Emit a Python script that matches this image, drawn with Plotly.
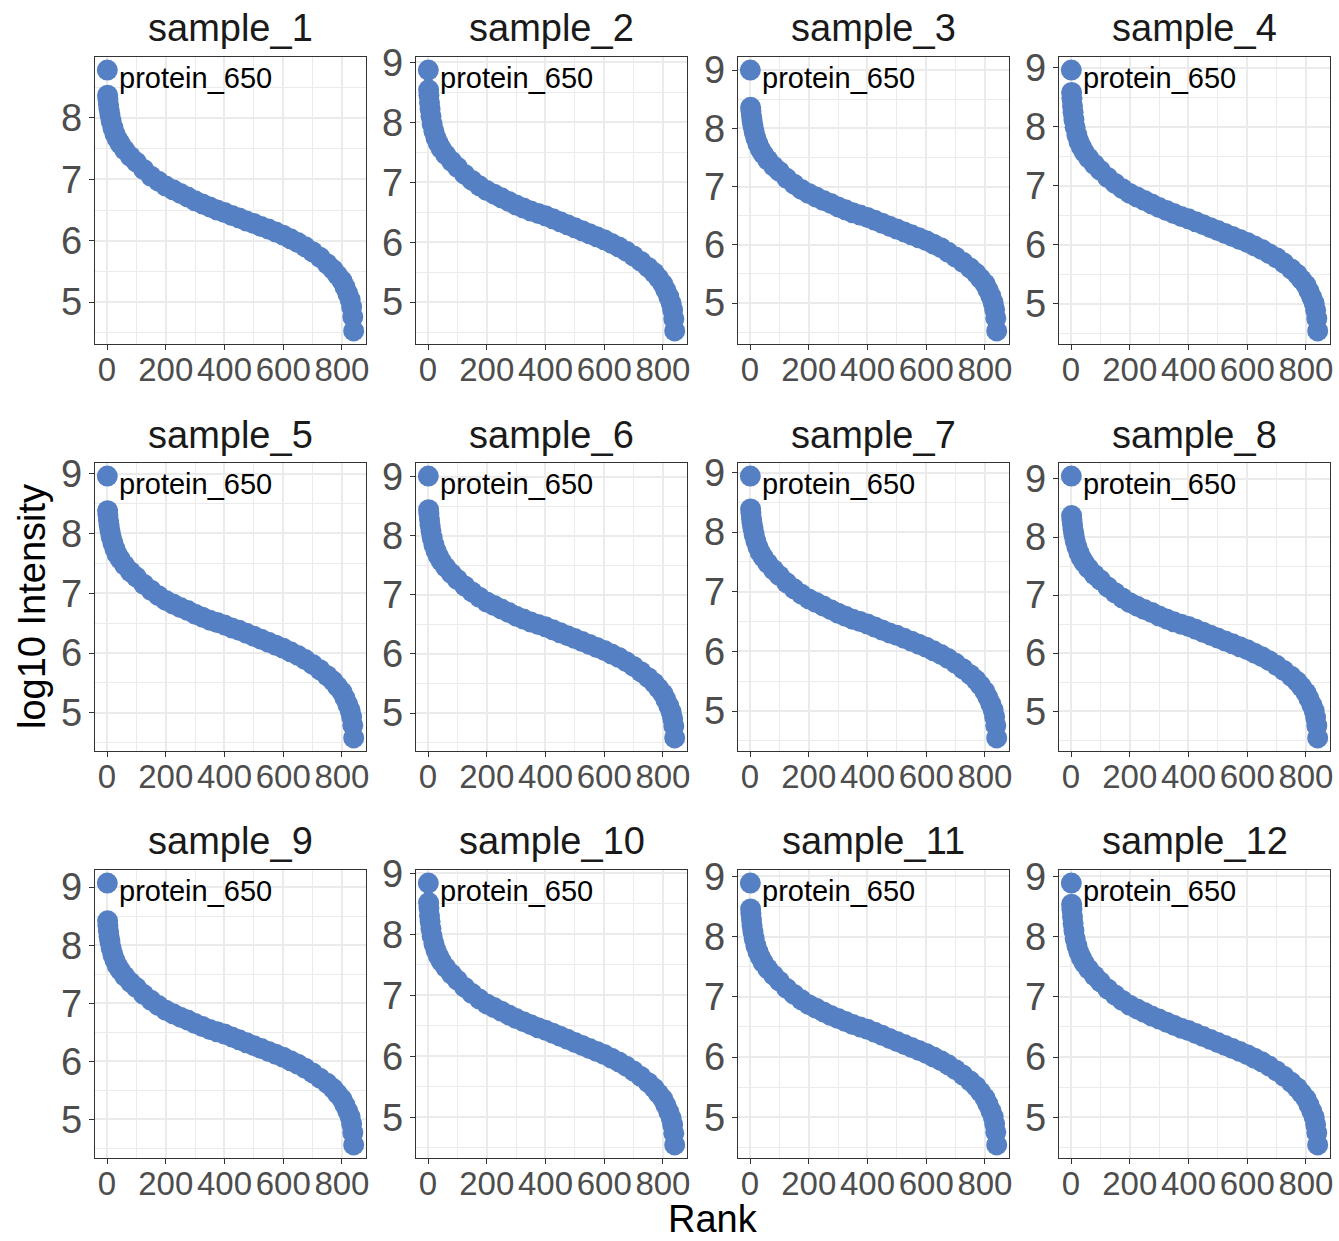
import plotly.graph_objects as go

# ---------------- data ----------------
samples = [f"sample_{i}" for i in range(1, 13)]
label_text = "protein_650"

ranks = [1, 2, 3, 5, 7, 10, 14, 20, 27, 35, 45, 60, 80, 100, 125, 150, 175, 200, 225, 250,
         275, 300, 325, 350, 375, 400, 425, 450, 475, 500, 525, 550, 575, 600, 625, 650,
         675, 700, 725, 750, 770, 785, 800, 810, 820, 828, 833, 837, 840]

s1 = [8.78, 8.37, 8.31, 8.22, 8.14, 8.05, 7.95, 7.84, 7.74, 7.66, 7.58, 7.48, 7.37, 7.28, 7.16, 7.05, 6.97, 6.89, 6.83, 6.77,
      6.71, 6.65, 6.60, 6.55, 6.50, 6.46, 6.41, 6.37, 6.32, 6.28, 6.23, 6.19, 6.14, 6.09, 6.03, 5.97,
      5.90, 5.82, 5.73, 5.62, 5.53, 5.44, 5.35, 5.25, 5.14, 5.04, 4.92, 4.76, 4.53]
s2 = [8.87, 8.54, 8.45, 8.33, 8.22, 8.10, 7.97, 7.85, 7.74, 7.65, 7.56, 7.46, 7.35, 7.25, 7.13, 7.03, 6.94, 6.86, 6.80, 6.74,
      6.68, 6.62, 6.57, 6.52, 6.48, 6.44, 6.39, 6.34, 6.29, 6.24, 6.19, 6.14, 6.09, 6.04, 5.98, 5.92,
      5.85, 5.77, 5.68, 5.58, 5.49, 5.40, 5.30, 5.20, 5.09, 4.98, 4.87, 4.72, 4.52]
s3 = [9.00, 8.36, 8.30, 8.21, 8.13, 8.04, 7.94, 7.83, 7.73, 7.64, 7.56, 7.46, 7.35, 7.26, 7.14, 7.04, 6.95, 6.88, 6.82, 6.76,
      6.71, 6.65, 6.60, 6.55, 6.51, 6.47, 6.42, 6.37, 6.32, 6.27, 6.22, 6.17, 6.12, 6.07, 6.01, 5.95,
      5.87, 5.79, 5.70, 5.60, 5.51, 5.42, 5.33, 5.23, 5.12, 5.01, 4.89, 4.74, 4.52]
s4 = [8.96, 8.58, 8.48, 8.35, 8.24, 8.12, 7.99, 7.86, 7.75, 7.66, 7.57, 7.47, 7.36, 7.26, 7.14, 7.04, 6.95, 6.87, 6.81, 6.75,
      6.69, 6.63, 6.58, 6.53, 6.48, 6.44, 6.39, 6.34, 6.29, 6.24, 6.19, 6.14, 6.09, 6.04, 5.98, 5.92,
      5.85, 5.78, 5.69, 5.59, 5.50, 5.41, 5.32, 5.22, 5.11, 5.01, 4.89, 4.75, 4.54]
s5 = [8.96, 8.38, 8.31, 8.22, 8.14, 8.05, 7.95, 7.84, 7.74, 7.65, 7.57, 7.47, 7.36, 7.27, 7.15, 7.05, 6.96, 6.88, 6.82, 6.76,
      6.71, 6.65, 6.60, 6.55, 6.51, 6.47, 6.42, 6.38, 6.33, 6.28, 6.23, 6.18, 6.13, 6.08, 6.02, 5.96,
      5.89, 5.81, 5.72, 5.62, 5.53, 5.44, 5.35, 5.25, 5.14, 5.04, 4.93, 4.79, 4.58]
s6 = [9.01, 8.44, 8.37, 8.27, 8.18, 8.08, 7.97, 7.85, 7.75, 7.66, 7.57, 7.47, 7.36, 7.26, 7.15, 7.05, 6.96, 6.88, 6.82, 6.76,
      6.70, 6.64, 6.59, 6.54, 6.50, 6.46, 6.41, 6.36, 6.31, 6.26, 6.21, 6.16, 6.11, 6.06, 6.00, 5.94,
      5.87, 5.79, 5.70, 5.60, 5.51, 5.42, 5.33, 5.23, 5.12, 5.02, 4.91, 4.78, 4.58]
s7 = [8.94, 8.39, 8.32, 8.23, 8.15, 8.06, 7.96, 7.85, 7.75, 7.66, 7.58, 7.48, 7.37, 7.27, 7.15, 7.05, 6.96, 6.88, 6.82, 6.76,
      6.70, 6.64, 6.59, 6.54, 6.50, 6.46, 6.41, 6.36, 6.31, 6.27, 6.22, 6.17, 6.12, 6.07, 6.01, 5.95,
      5.88, 5.80, 5.71, 5.61, 5.52, 5.43, 5.33, 5.23, 5.12, 5.02, 4.90, 4.76, 4.55]
s8 = [9.05, 8.37, 8.30, 8.21, 8.13, 8.04, 7.94, 7.83, 7.73, 7.64, 7.56, 7.46, 7.35, 7.26, 7.14, 7.04, 6.95, 6.87, 6.81, 6.75,
      6.70, 6.64, 6.59, 6.54, 6.50, 6.46, 6.41, 6.36, 6.31, 6.26, 6.21, 6.16, 6.11, 6.06, 6.00, 5.94,
      5.87, 5.79, 5.70, 5.60, 5.51, 5.42, 5.32, 5.22, 5.11, 5.01, 4.89, 4.75, 4.54]
s9 = [9.07, 8.42, 8.34, 8.24, 8.15, 8.06, 7.95, 7.84, 7.74, 7.65, 7.57, 7.47, 7.36, 7.27, 7.15, 7.05, 6.96, 6.88, 6.82, 6.76,
      6.71, 6.65, 6.60, 6.55, 6.51, 6.47, 6.42, 6.37, 6.32, 6.27, 6.22, 6.17, 6.12, 6.07, 6.01, 5.95,
      5.88, 5.80, 5.71, 5.62, 5.53, 5.44, 5.35, 5.25, 5.14, 5.04, 4.92, 4.77, 4.56]
s10 = [8.84, 8.52, 8.43, 8.31, 8.21, 8.09, 7.97, 7.85, 7.74, 7.65, 7.56, 7.46, 7.35, 7.25, 7.13, 7.03, 6.94, 6.86, 6.80, 6.74,
       6.68, 6.62, 6.57, 6.52, 6.47, 6.43, 6.38, 6.33, 6.28, 6.23, 6.18, 6.13, 6.08, 6.03, 5.97, 5.91,
       5.84, 5.76, 5.67, 5.57, 5.48, 5.39, 5.30, 5.20, 5.09, 4.99, 4.88, 4.74, 4.55]
s11 = [8.89, 8.46, 8.38, 8.28, 8.18, 8.08, 7.97, 7.85, 7.75, 7.66, 7.57, 7.47, 7.36, 7.26, 7.14, 7.04, 6.95, 6.87, 6.81, 6.75,
       6.69, 6.64, 6.59, 6.54, 6.50, 6.46, 6.41, 6.36, 6.31, 6.26, 6.21, 6.16, 6.11, 6.06, 6.00, 5.94,
       5.87, 5.79, 5.70, 5.60, 5.51, 5.42, 5.32, 5.22, 5.11, 5.01, 4.89, 4.75, 4.54]
s12 = [8.89, 8.54, 8.45, 8.33, 8.22, 8.10, 7.97, 7.85, 7.74, 7.65, 7.56, 7.46, 7.35, 7.25, 7.13, 7.03, 6.94, 6.86, 6.80, 6.74,
       6.68, 6.63, 6.58, 6.53, 6.48, 6.44, 6.39, 6.34, 6.29, 6.24, 6.19, 6.14, 6.09, 6.04, 5.98, 5.92,
       5.85, 5.77, 5.68, 5.58, 5.49, 5.40, 5.31, 5.21, 5.10, 5.00, 4.88, 4.74, 4.54]
values = [s1, s2, s3, s4, s5, s6, s7, s8, s9, s10, s11, s12]

x_ticks = [0, 200, 400, 600, 800]
x_minor = [100, 300, 500, 700]
y_ticks = [5, 6, 7, 8, 9]
y_minor = [4.5, 5.5, 6.5, 7.5, 8.5]

# ---------------- layout geometry (pixels) ----------------
W, H = 1339, 1241
col_px = [(95, 366), (416, 687), (738, 1009), (1059, 1330)]
row_px = [(57, 344), (463, 751), (870, 1158)]
strip_y = [28, 435, 841]

FONT = "Liberation Sans, Arial, Helvetica, sans-serif"
POINT = "#5680C4"
GRID = "#EBEBEB"
BORDER = "#333333"
TICKCOL = "#4D4D4D"

fig = go.Figure()
annotations = []

n_min, n_max = min(ranks), max(ranks)
xr = [n_min - 0.05 * (n_max - n_min), n_max + 0.05 * (n_max - n_min)]

for i, (name, vals) in enumerate(zip(samples, values)):
    r, c = divmod(i, 4)
    k = i + 1
    xa = "x" if k == 1 else f"x{k}"
    ya = "y" if k == 1 else f"y{k}"
    fig.add_trace(go.Scatter(
        x=ranks, y=vals, mode="markers", xaxis=xa, yaxis=ya,
        marker=dict(size=21, color=POINT, line=dict(width=0)),
        showlegend=False, hoverinfo="skip"))

    lo, hi = min(vals), max(vals)
    span = hi - lo
    yr = [lo - 0.05 * span, hi + 0.05 * span]

    x0, x1 = col_px[c]
    y0, y1 = row_px[r]
    common = dict(showline=True, linecolor=BORDER, linewidth=1.3, mirror=True,
                  showgrid=True, gridcolor=GRID, gridwidth=1.8, zeroline=False,
                  ticks="outside", ticklen=5, tickwidth=1.3, tickcolor=BORDER,
                  automargin=False, tickangle=0)
    fig.layout[("xaxis" if k == 1 else f"xaxis{k}")] = dict(
        domain=[x0 / W, x1 / W], anchor=ya, range=xr,
        tickmode="array", tickvals=x_ticks, ticktext=[str(v) for v in x_ticks],
        minor=dict(tickmode="array", tickvals=x_minor, showgrid=True, gridcolor=GRID,
                   gridwidth=0.9, ticks=""),
        tickfont=dict(family=FONT, size=33, color=TICKCOL),
        ticklabelstandoff=-9, **common)
    fig.layout[("yaxis" if k == 1 else f"yaxis{k}")] = dict(
        domain=[1 - y1 / H, 1 - y0 / H], anchor=xa, range=yr,
        tickmode="array", tickvals=y_ticks, ticktext=[str(v) for v in y_ticks],
        minor=dict(tickmode="array", tickvals=y_minor, showgrid=True, gridcolor=GRID,
                   gridwidth=0.9, ticks=""),
        tickfont=dict(family=FONT, size=38, color=TICKCOL),
        ticklabelstandoff=-1, **common)

    # strip title
    annotations.append(dict(
        text=name, x=(x0 + x1) / 2 / W, y=1 - strip_y[r] / H, xref="paper", yref="paper",
        xanchor="center", yanchor="middle", showarrow=False,
        font=dict(family=FONT, size=38, color="#1A1A1A")))
    # label of the top protein
    annotations.append(dict(
        text=label_text, x=ranks[0], y=vals[0], xref=xa, yref=ya,
        xanchor="left", yanchor="middle", xshift=10, yshift=-8, showarrow=False,
        font=dict(family=FONT, size=29, color="#000000")))

annotations.append(dict(text="Rank", x=713 / W, y=1 - 1219 / H, xref="paper", yref="paper",
                        xanchor="center", yanchor="middle", showarrow=False,
                        font=dict(family=FONT, size=38, color="#000000")))
annotations.append(dict(text="log10 Intensity", x=32 / W, y=1 - 607 / H, xref="paper", yref="paper",
                        xanchor="center", yanchor="middle", showarrow=False, textangle=-90,
                        font=dict(family=FONT, size=38, color="#000000")))

fig.update_layout(width=W, height=H, margin=dict(l=0, r=0, t=0, b=0, autoexpand=False),
                  paper_bgcolor="white", plot_bgcolor="white",
                  annotations=annotations, showlegend=False)

fig.write_html("out.html", config={"displayModeBar": False},
               post_script="document.body.style.margin='0px';document.body.style.overflow='hidden';")
